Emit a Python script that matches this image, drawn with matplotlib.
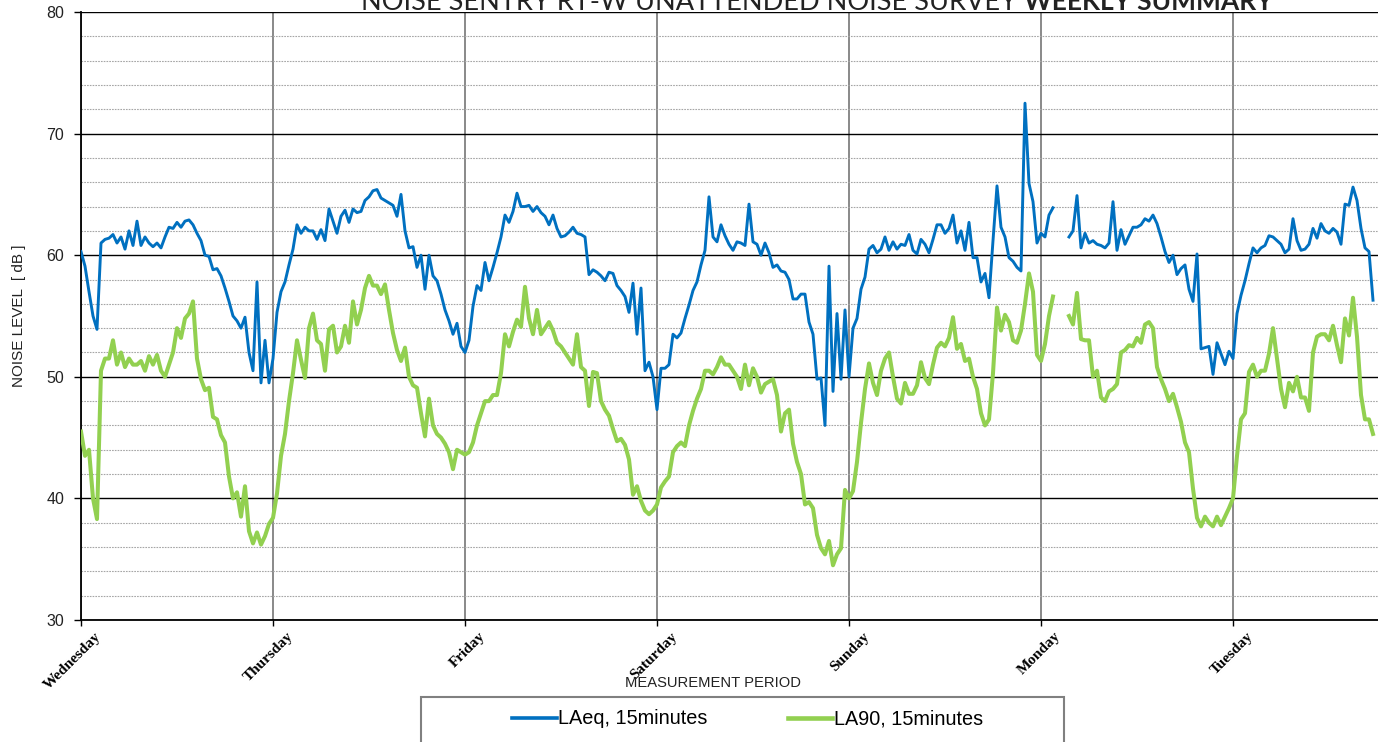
import numpy as np
import matplotlib.pyplot as plt
from matplotlib import font_manager
from matplotlib.patches import Rectangle
from matplotlib.ticker import MultipleLocator
from matplotlib.lines import Line2D
import matplotlib.transforms as mtransforms

nan = np.nan

days = ['Wednesday', 'Thursday', 'Friday', 'Saturday', 'Sunday', 'Monday', 'Tuesday']
samples_per_day = 48  # values every 30 minutes

# LAeq, 15 minutes (dB) - one list per day
laeq_wed = [60.3, 59.1, 57.0, 55.0, 53.9, 61.0, 61.3, 61.4, 61.7, 61.0, 61.5, 60.5, 62.0, 60.8, 62.8, 60.8,
            61.5, 61.0, 60.7, 61.0, 60.6, 61.5, 62.3, 62.2, 62.7, 62.3, 62.8, 62.9, 62.5, 61.8, 61.2, 60.0,
            59.9, 58.8, 58.9, 58.3, 57.3, 56.2, 55.0, 54.6, 54.0, 54.9, 52.0, 50.5, 57.8, 49.5, 53.0, 49.5]
laeq_thu = [51.5, 55.3, 57.0, 57.8, 59.2, 60.5, 62.5, 61.8, 62.3, 62.0, 62.0, 61.3, 62.1, 61.2, 63.8, 62.8,
            61.8, 63.2, 63.7, 62.7, 63.8, 63.5, 63.6, 64.5, 64.8, 65.3, 65.4, 64.7, 64.5, 64.3, 64.1, 63.2,
            65.0, 62.0, 60.6, 60.7, 59.0, 60.0, 57.2, 60.0, 58.3, 57.9, 56.8, 55.5, 54.6, 53.5, 54.4, 52.5]
laeq_fri = [52.0, 53.0, 55.8, 57.5, 57.1, 59.4, 57.9, 59.0, 60.2, 61.5, 63.3, 62.7, 63.6, 65.1, 64.0, 64.0,
            64.1, 63.6, 64.0, 63.5, 63.2, 62.5, 63.3, 62.2, 61.5, 61.6, 61.9, 62.3, 61.8, 61.7, 61.5, 58.4,
            58.8, 58.6, 58.3, 57.9, 58.6, 58.5, 57.5, 57.1, 56.6, 55.3, 57.7, 53.5, 57.3, 50.5, 51.2, 50.0]
laeq_sat = [47.3, 50.7, 50.7, 51.0, 53.5, 53.2, 53.6, 54.8, 55.9, 57.1, 57.8, 59.2, 60.4, 64.8, 61.5, 61.1,
            62.5, 61.6, 60.9, 60.4, 61.1, 61.0, 60.8, 64.2, 61.1, 60.9, 60.0, 61.0, 60.2, 59.0, 59.2, 58.7,
            58.6, 58.0, 56.4, 56.4, 56.8, 56.8, 54.5, 53.5, 49.8, 49.9, 46.0, 59.1, 48.8, 55.2, 49.8, 55.5]
laeq_sun = [50.0, 54.0, 54.8, 57.2, 58.2, 60.5, 60.8, 60.2, 60.5, 61.5, 60.4, 61.1, 60.5, 60.9, 60.8, 61.7,
            60.4, 60.1, 61.3, 60.9, 60.2, 61.3, 62.5, 62.5, 61.8, 62.2, 63.3, 61.0, 62.0, 60.4, 62.7, 59.8,
            59.8, 57.8, 58.5, 56.5, 61.2, 65.7, 62.3, 61.5, 59.8, 59.5, 59.0, 58.7, 72.5, 65.9, 64.4, 61.0]
laeq_mon = [61.8, 61.5, 63.3, 63.9, nan, nan, nan, 61.5, 62.0, 64.9, 60.6, 61.8, 61.0, 61.2, 60.9, 60.8,
            60.6, 61.0, 64.4, 60.4, 62.1, 60.9, 61.6, 62.3, 62.3, 62.5, 63.0, 62.8, 63.3, 62.6, 61.5, 60.3,
            59.4, 60.0, 58.4, 58.9, 59.2, 57.2, 56.2, 60.1, 52.3, 52.4, 52.5, 50.2, 52.8, 51.9, 51.0, 52.1]
laeq_tue = [51.5, 55.2, 56.7, 57.9, 59.3, 60.6, 60.2, 60.6, 60.8, 61.6, 61.5, 61.2, 60.9, 60.2, 60.5, 63.0,
            61.2, 60.4, 60.5, 60.9, 62.2, 61.4, 62.6, 62.0, 61.8, 62.2, 61.9, 60.9, 64.2, 64.1, 65.6, 64.5,
            62.2, 60.6, 60.3, 56.3]

# LA90, 15 minutes (dB)
la90_wed = [45.5, 43.5, 44.0, 40.0, 38.3, 50.5, 51.5, 51.5, 53.0, 51.0, 52.0, 50.8, 51.5, 51.0, 51.0, 51.3,
            50.5, 51.7, 51.0, 51.8, 50.5, 50.0, 51.0, 52.0, 54.0, 53.2, 54.8, 55.2, 56.2, 51.5, 49.8, 48.9,
            49.1, 46.7, 46.5, 45.2, 44.6, 41.8, 40.0, 40.5, 38.5, 41.0, 37.3, 36.3, 37.2, 36.2, 36.9, 37.9]
la90_thu = [38.4, 40.4, 43.5, 45.3, 48.0, 50.3, 53.0, 51.4, 49.9, 54.0, 55.2, 53.0, 52.7, 50.5, 53.9, 54.2,
            52.0, 52.5, 54.2, 52.8, 56.2, 54.3, 55.5, 57.3, 58.3, 57.5, 57.5, 56.8, 57.6, 55.5, 53.6, 52.2,
            51.3, 52.4, 50.0, 49.3, 49.1, 47.0, 45.1, 48.2, 46.0, 45.3, 45.0, 44.5, 43.8, 42.4, 44.0, 43.8]
la90_fri = [43.6, 43.8, 44.6, 46.0, 47.0, 48.0, 48.0, 48.5, 48.5, 50.3, 53.5, 52.5, 53.7, 54.7, 54.1, 57.4,
            54.8, 53.5, 55.5, 53.5, 54.0, 54.5, 53.8, 52.8, 52.5, 52.0, 51.5, 51.0, 53.5, 50.8, 50.5, 47.6,
            50.4, 50.3, 48.0, 47.3, 46.8, 45.7, 44.7, 44.9, 44.4, 43.2, 40.3, 41.0, 39.8, 39.0, 38.7, 39.0]
la90_sat = [39.5, 40.9, 41.4, 41.8, 43.8, 44.3, 44.6, 44.3, 46.0, 47.2, 48.2, 49.0, 50.5, 50.5, 50.2, 50.8,
            51.6, 51.0, 51.0, 50.5, 50.0, 49.0, 51.0, 49.3, 50.7, 50.0, 48.7, 49.4, 49.6, 49.8, 48.5, 45.5,
            47.0, 47.3, 44.5, 43.0, 42.0, 39.5, 39.7, 39.2, 37.0, 35.9, 35.4, 36.5, 34.5, 35.4, 35.9, 40.7]
la90_sun = [40.0, 40.6, 43.0, 46.2, 49.0, 51.1, 49.5, 48.5, 50.5, 51.5, 52.0, 50.0, 48.2, 47.8, 49.5, 48.6,
            48.6, 49.3, 51.2, 49.9, 49.4, 51.0, 52.4, 52.8, 52.5, 53.2, 54.9, 52.3, 52.7, 51.3, 51.5, 50.0,
            49.0, 47.0, 46.0, 46.5, 50.3, 55.7, 53.8, 55.1, 54.5, 53.0, 52.8, 53.8, 56.0, 58.5, 57.0, 51.8]
la90_mon = [51.3, 52.7, 55.0, 56.6, nan, nan, nan, 55.0, 54.3, 56.9, 53.1, 53.0, 53.0, 50.0, 50.5, 48.3,
            48.0, 48.8, 49.0, 49.4, 52.0, 52.2, 52.6, 52.5, 53.2, 52.8, 54.3, 54.5, 54.0, 50.8, 49.8, 49.0,
            48.0, 48.6, 47.5, 46.3, 44.6, 43.8, 40.8, 38.4, 37.7, 38.5, 38.0, 37.7, 38.5, 37.8, 38.5, 39.2]
la90_tue = [40.0, 43.5, 46.5, 47.0, 50.4, 51.0, 50.0, 50.5, 50.5, 51.9, 54.0, 51.5, 49.0, 47.5, 49.5, 48.8,
            50.0, 48.3, 48.3, 47.2, 52.0, 53.3, 53.5, 53.5, 53.0, 54.2, 52.6, 51.2, 54.8, 53.4, 56.5, 53.3,
            48.5, 46.5, 46.5, 45.3]

laeq = np.concatenate([laeq_wed, laeq_thu, laeq_fri, laeq_sat, laeq_sun, laeq_mon, laeq_tue])
la90 = np.concatenate([la90_wed, la90_thu, la90_fri, la90_sat, la90_sun, la90_mon, la90_tue])
t = np.arange(len(laeq)) / samples_per_day

BLUE = '#0070C0'
GREEN = '#92D050'

names = {f.name for f in font_manager.fontManager.ttflist}
if 'Liberation Sans Narrow' in names:
    narrow, nscale = 'Liberation Sans Narrow', 1.0
else:
    narrow, nscale = 'Liberation Sans', 0.82

W, H = 1378, 742
fig = plt.figure(figsize=(W / 100, H / 100), dpi=100)
ax = fig.add_axes([81 / W, 1 - 620 / H, (W - 81) / W, (620 - 12) / H])

ax.plot(t, laeq, color=BLUE, lw=2.1, label='LAeq, 15minutes', zorder=3)
ax.plot(t, la90, color=GREEN, lw=2.9, label='LA90, 15minutes', zorder=3)

ax.set_xlim(0, (W - 81) / 192)
ax.set_ylim(30, 80)
ax.yaxis.set_major_locator(MultipleLocator(10))
ax.yaxis.set_minor_locator(MultipleLocator(2))
ax.set_xticks(range(len(days)))
ax.set_xticklabels(days)

ax.set_axisbelow(True)
ax.grid(which='major', axis='y', color='black', lw=1.0)
ax.grid(which='minor', axis='y', color='#a6a6a6', ls=(0, (1.5, 1)), lw=0.8)
ax.grid(which='major', axis='x', color='#808080', lw=1.3)

for s in ['top', 'right']:
    ax.spines[s].set_visible(False)
ax.spines['left'].set_linewidth(1.3)
ax.spines['bottom'].set_linewidth(1.3)

ax.tick_params(axis='y', which='major', length=5, width=1, pad=7, labelsize=11.5)
ax.tick_params(axis='y', which='minor', length=0)
ax.tick_params(axis='x', length=4, width=1, pad=2)
for lab in ax.get_yticklabels():
    lab.set_fontfamily('Liberation Sans')
    lab.set_color('#222222')

offset = mtransforms.ScaledTranslation(0.18, -0.06, fig.dpi_scale_trans)
for lab in ax.get_xticklabels():
    lab.set_fontfamily('Liberation Serif')
    lab.set_fontweight('bold')
    lab.set_fontsize(11)
    lab.set_rotation(45)
    lab.set_ha('right')
    lab.set_va('center')
    lab.set_rotation_mode('anchor')
    lab.set_transform(lab.get_transform() + offset)

fig.text(19 / W, 1 - 316 / H, 'NOISE LEVEL  [ dB ]', rotation=90, ha='center', va='center',
         fontsize=11, family='Liberation Sans', color='#222222')
fig.text(713 / W, 1 - 683 / H, 'MEASUREMENT PERIOD', ha='center', va='center',
         fontsize=13 * nscale, family=narrow, color='#222222')

fig.text(361 / W, 1 - 10 / H, 'NOISE SENTRY RT-W UNATTENDED NOISE SURVEY', ha='left', va='baseline',
         fontsize=19.5, family='Lato', color='#222222')
fig.text(1273 / W, 1 - 10 / H, 'WEEKLY SUMMARY', ha='right', va='baseline',
         fontsize=19, family='Lato', fontweight='bold', color='#222222')

# legend box (cut off at the bottom of the image)
fig.add_artist(Rectangle((421 / W, -0.05), (1064 - 421) / W, 0.05 + 1 - 697 / H,
                         transform=fig.transFigure, facecolor='white', edgecolor='#808080', lw=1.5))
handles = [Line2D([], [], color=BLUE, lw=2.6), Line2D([], [], color=GREEN, lw=3.3)]
fig.legend(handles, ['LAeq, 15minutes', 'LA90, 15minutes'], loc='center left',
           bbox_to_anchor=(502 / W, 1 - 719 / H), ncol=2, frameon=False, borderpad=0,
           handlelength=2.25, handletextpad=0.08, columnspacing=4.0,
           prop={'family': narrow, 'size': 17.5 * nscale})

fig.savefig('out.png', dpi=100)
